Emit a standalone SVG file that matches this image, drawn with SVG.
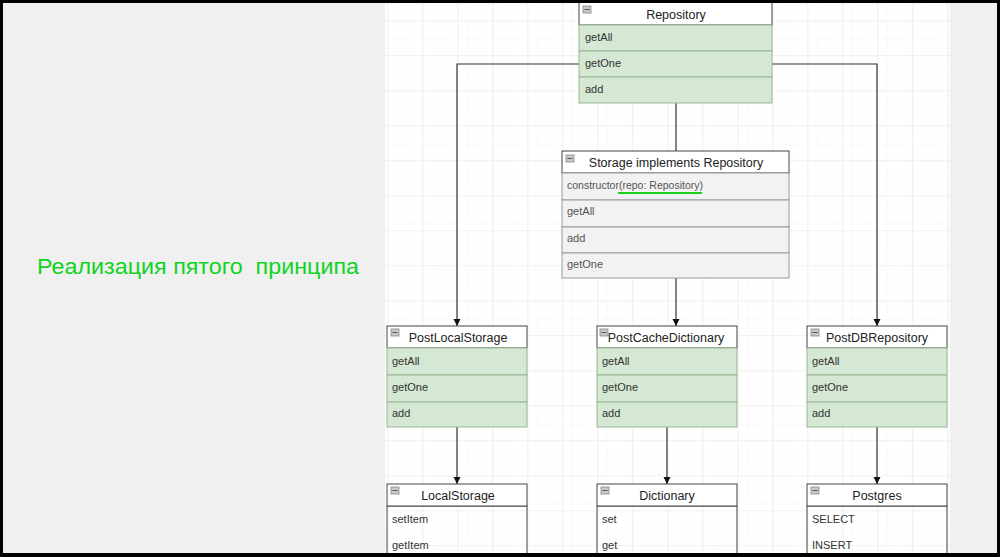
<svg xmlns="http://www.w3.org/2000/svg" width="1000" height="557" viewBox="0 0 1000 557">
<style>
.title{font-family:"Liberation Sans",Arial,sans-serif;font-size:12.5px;fill:#222;text-anchor:middle}
.item{font-family:"Liberation Sans",Arial,sans-serif;font-size:11px;fill:#333}
.gray{fill:#555}
.hdr{fill:#fff;stroke:#444;stroke-width:1}
.grow{fill:#d5e8d4;stroke:#97b892;stroke-width:1}
.srow{fill:#f2f2f2;stroke:#999;stroke-width:1}
.wbody{fill:none;stroke:#444;stroke-width:1}
.con{fill:none;stroke:#333;stroke-width:1.2}
.ico{fill:#c8c8c8;stroke:#888;stroke-width:0.8}
.big{font-family:"Liberation Sans",Arial,sans-serif;font-size:22.5px;fill:#0fd41f;white-space:pre}
</style>
<defs>
<pattern id="minor" patternUnits="userSpaceOnUse" x="387" y="20" width="8.75" height="8.75">
<path d="M8.75 0V8.75M0 8.75H8.75" fill="none" stroke="#f6f6f6" stroke-width="1"/>
</pattern>
<pattern id="major" patternUnits="userSpaceOnUse" x="387" y="20" width="35" height="35">
<rect width="35" height="35" fill="url(#minor)"/>
<path d="M0 0V35M0 0H35" fill="none" stroke="#e8e8e8" stroke-width="1"/>
</pattern>
<marker id="arr" markerWidth="8" markerHeight="8" refX="7" refY="4" orient="auto" markerUnits="userSpaceOnUse">
<path d="M0 0.5L7 4L0 7.5Z" fill="#111"/>
</marker>
<g id="icon"><rect x="0" y="0" width="8" height="7" class="ico"/><line x1="1.5" y1="3.5" x2="6.5" y2="3.5" stroke="#555" stroke-width="1"/></g>
</defs>
<rect x="0" y="0" width="1000" height="557" fill="#000"/>
<rect x="3" y="3" width="994" height="550" fill="#f0f0f0"/>
<rect x="385" y="3" width="565" height="550" fill="#fff"/>
<rect x="385" y="3" width="565" height="550" fill="url(#major)"/>
<text class="big" x="37" y="274" xml:space="preserve" textLength="322" lengthAdjust="spacingAndGlyphs">Реализация пятого  принципа</text>
<g id="connectors">
<path class="con" d="M579 64H457V326" marker-end="url(#arr)"/>
<path class="con" d="M772 64H877V326" marker-end="url(#arr)"/>
<path class="con" d="M676 103V151"/>
<path class="con" d="M676 278V326" marker-end="url(#arr)"/>
<path class="con" d="M457 427V484" marker-end="url(#arr)"/>
<path class="con" d="M667 427V484" marker-end="url(#arr)"/>
<path class="con" d="M877 427V484" marker-end="url(#arr)"/>
</g>
<g id="repository">
<rect class="hdr" x="579" y="2" width="193" height="23"/>
<use href="#icon" x="583" y="6"/>
<text class="title" x="676" y="19">Repository</text>
<rect class="grow" x="579" y="25" width="193" height="26"/>
<rect class="grow" x="579" y="51" width="193" height="26"/>
<rect class="grow" x="579" y="77" width="193" height="26"/>
<text class="item" x="585" y="41">getAll</text>
<text class="item" x="585" y="67">getOne</text>
<text class="item" x="585" y="93">add</text>
</g>
<g id="storage">
<rect class="hdr" x="562" y="151" width="227" height="22"/>
<use href="#icon" x="566" y="155"/>
<text class="title" x="676" y="167">Storage implements Repository</text>
<rect class="srow" x="562" y="173" width="227" height="27"/>
<rect class="srow" x="562" y="200" width="227" height="27"/>
<rect class="srow" x="562" y="227" width="227" height="26"/>
<rect class="srow" x="562" y="253" width="227" height="25"/>
<text class="item gray" x="567" y="189" textLength="136" lengthAdjust="spacingAndGlyphs">constructor(repo: Repository)</text>
<line x1="618" y1="193" x2="702" y2="193" stroke="#1fd21f" stroke-width="2"/>
<text class="item gray" x="567" y="215">getAll</text>
<text class="item gray" x="567" y="242">add</text>
<text class="item gray" x="567" y="268">getOne</text>
</g>
<g id="postlocalstorage">
<rect class="hdr" x="387" y="326" width="140" height="22"/>
<use href="#icon" x="391" y="329"/>
<text class="title" x="458" y="342">PostLocalStorage</text>
<rect class="grow" x="387" y="348" width="140" height="27"/>
<rect class="grow" x="387" y="375" width="140" height="27"/>
<rect class="grow" x="387" y="402" width="140" height="25"/>
<text class="item" x="392" y="365">getAll</text>
<text class="item" x="392" y="391">getOne</text>
<text class="item" x="392" y="417">add</text>
</g>
<g id="postcachedictionary">
<rect class="hdr" x="597" y="326" width="140" height="22"/>
<use href="#icon" x="600" y="329"/>
<text class="title" x="666" y="342">PostCacheDictionary</text>
<rect class="grow" x="597" y="348" width="140" height="27"/>
<rect class="grow" x="597" y="375" width="140" height="27"/>
<rect class="grow" x="597" y="402" width="140" height="25"/>
<text class="item" x="602" y="365">getAll</text>
<text class="item" x="602" y="391">getOne</text>
<text class="item" x="602" y="417">add</text>
</g>
<g id="postdbrepository">
<rect class="hdr" x="807" y="326" width="140" height="22"/>
<use href="#icon" x="811" y="329"/>
<text class="title" x="877" y="342">PostDBRepository</text>
<rect class="grow" x="807" y="348" width="140" height="27"/>
<rect class="grow" x="807" y="375" width="140" height="27"/>
<rect class="grow" x="807" y="402" width="140" height="25"/>
<text class="item" x="812" y="365">getAll</text>
<text class="item" x="812" y="391">getOne</text>
<text class="item" x="812" y="417">add</text>
</g>
<g id="localstorage">
<rect class="wbody" x="387" y="506" width="140" height="60"/>
<rect class="hdr" x="387" y="484" width="140" height="22"/>
<use href="#icon" x="391" y="487"/>
<text class="title" x="458" y="500">LocalStorage</text>
<text class="item" x="392" y="523">setItem</text>
<text class="item" x="392" y="549">getItem</text>
</g>
<g id="dictionary">
<rect class="wbody" x="597" y="506" width="140" height="60"/>
<rect class="hdr" x="597" y="484" width="140" height="22"/>
<use href="#icon" x="601" y="487"/>
<text class="title" x="667" y="500">Dictionary</text>
<text class="item" x="602" y="523">set</text>
<text class="item" x="602" y="549">get</text>
</g>
<g id="postgres">
<rect class="wbody" x="807" y="506" width="140" height="60"/>
<rect class="hdr" x="807" y="484" width="140" height="22"/>
<use href="#icon" x="811" y="487"/>
<text class="title" x="877" y="500">Postgres</text>
<text class="item" x="812" y="523">SELECT</text>
<text class="item" x="812" y="549">INSERT</text>
</g>
<rect x="0" y="0" width="1000" height="3" fill="#000"/>
<rect x="0" y="553" width="1000" height="4" fill="#000"/>
<rect x="0" y="0" width="3" height="557" fill="#000"/>
<rect x="997" y="0" width="3" height="557" fill="#000"/>
</svg>
